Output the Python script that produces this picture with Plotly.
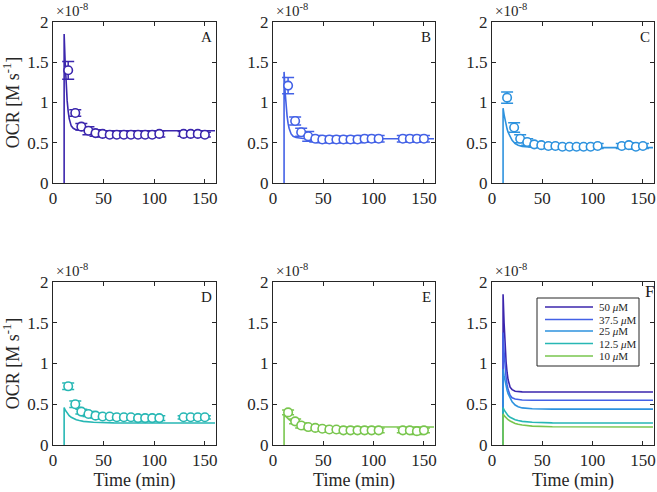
import plotly.graph_objects as go

# ---------------- data (units of 1e-8 M/s) ----------------
panels = ["A", "B", "C", "D", "E"]
conc_labels = ["50 <i>μ</i>M", "37.5 <i>μ</i>M", "25 <i>μ</i>M", "12.5 <i>μ</i>M", "10 <i>μ</i>M"]
colors = ["#3b26ad", "#4361e6", "#2d92de", "#27b7b4", "#79c64e"]

t_data = [15, 22, 28, 35, 42, 49, 56, 63, 70, 77, 84, 91, 98, 105, 129, 136, 143, 150]
y_A = [1.40, 0.87, 0.70, 0.65, 0.62, 0.61, 0.60, 0.60, 0.60, 0.60, 0.60, 0.60, 0.60, 0.61, 0.61, 0.61, 0.61, 0.60]
e_A = [0.11, 0.04, 0.04, 0.05, 0.04, 0.04, 0.03, 0.03, 0.03, 0.03, 0.03, 0.03, 0.03, 0.04, 0.03, 0.03, 0.03, 0.03]
y_B = [1.21, 0.77, 0.63, 0.58, 0.55, 0.54, 0.54, 0.54, 0.54, 0.54, 0.54, 0.55, 0.55, 0.55, 0.55, 0.55, 0.55, 0.55]
e_B = [0.10, 0.05, 0.05, 0.06, 0.04, 0.04, 0.04, 0.04, 0.04, 0.04, 0.04, 0.04, 0.04, 0.04, 0.04, 0.04, 0.04, 0.04]
y_C = [1.06, 0.69, 0.55, 0.51, 0.48, 0.47, 0.46, 0.46, 0.45, 0.45, 0.45, 0.45, 0.45, 0.46, 0.46, 0.47, 0.45, 0.46]
e_C = [0.07, 0.06, 0.05, 0.04, 0.03, 0.03, 0.03, 0.03, 0.03, 0.03, 0.03, 0.03, 0.03, 0.03, 0.03, 0.03, 0.03, 0.03]
y_D = [0.72, 0.50, 0.41, 0.38, 0.36, 0.35, 0.35, 0.34, 0.34, 0.34, 0.33, 0.33, 0.33, 0.33, 0.34, 0.34, 0.34, 0.34]
e_D = [0.04, 0.04, 0.03, 0.03, 0.03, 0.03, 0.03, 0.03, 0.03, 0.03, 0.03, 0.03, 0.03, 0.03, 0.02, 0.02, 0.02, 0.02]
y_E = [0.40, 0.29, 0.24, 0.22, 0.21, 0.20, 0.19, 0.19, 0.18, 0.18, 0.18, 0.18, 0.18, 0.18, 0.18, 0.18, 0.17, 0.18]
e_E = [0.03, 0.03, 0.03, 0.03, 0.03, 0.03, 0.03, 0.03, 0.03, 0.03, 0.03, 0.03, 0.03, 0.03, 0.03, 0.03, 0.04, 0.03]

t_model = [11, 11, 12, 13, 14, 15, 16, 18, 20, 23, 26, 30, 40, 60, 160]
m_A = [0, 1.85, 1.50, 1.22, 1.02, 0.89, 0.80, 0.71, 0.68, 0.66, 0.655, 0.652, 0.65, 0.65, 0.65]
m_B = [0, 1.38, 1.14, 0.96, 0.83, 0.74, 0.68, 0.61, 0.58, 0.565, 0.557, 0.553, 0.55, 0.55, 0.55]
m_C = [0, 0.93, 0.85, 0.78, 0.72, 0.67, 0.63, 0.57, 0.53, 0.49, 0.47, 0.455, 0.445, 0.44, 0.44]
m_D = [0, 0.46, 0.43, 0.41, 0.39, 0.375, 0.36, 0.34, 0.325, 0.31, 0.30, 0.29, 0.28, 0.272, 0.27]
m_E = [0, 0.38, 0.36, 0.345, 0.33, 0.32, 0.31, 0.295, 0.28, 0.265, 0.255, 0.245, 0.232, 0.224, 0.22]

data_y = [y_A, y_B, y_C, y_D, y_E]
data_e = [e_A, e_B, e_C, e_D, e_E]
model_y = [m_A, m_B, m_C, m_D, m_E]

x_ticks = [0, 50, 100, 150]
y_ticks = [0, 0.5, 1, 1.5, 2]
y_tick_text = ["0", "0.5", "1", "1.5", "2"]

# ---------------- layout geometry ----------------
W, H = 657, 492
col_px = [(53, 216), (273, 435), (492, 654)]
row_px = [(22, 183), (282, 445)]
FONT = "Liberation Serif, DejaVu Serif, Times New Roman, serif"
INK = "#262626"

fig = go.Figure()
layout = dict(
    width=W, height=H, margin=dict(l=0, r=0, t=0, b=0, autoexpand=False),
    paper_bgcolor="white", plot_bgcolor="white",
    font=dict(family=FONT, size=17, color=INK),
    showlegend=False,
)
annotations = []
shapes = []

letters = ["A", "B", "C", "D", "E", "F"]
for i in range(6):
    r, c = divmod(i, 3)
    n = i + 1
    xa = "x" if n == 1 else f"x{n}"
    ya = "y" if n == 1 else f"y{n}"
    xkey = "xaxis" if n == 1 else f"xaxis{n}"
    ykey = "yaxis" if n == 1 else f"yaxis{n}"
    x0, x1 = col_px[c]
    y0, y1 = row_px[r]
    layout[xkey] = dict(
        domain=[x0 / W, x1 / W], anchor=ya, range=[0, 161], automargin=False,
        tickvals=x_ticks, ticks="inside", ticklen=4, tickcolor=INK,
        showline=True, linecolor=INK, linewidth=1, mirror="ticks",
        showgrid=False, zeroline=False, tickfont=dict(family=FONT, size=17),
        title=dict(text="Time (min)" if r == 1 else "", font=dict(family=FONT, size=18), standoff=2),
    )
    layout[ykey] = dict(
        domain=[1 - y1 / H, 1 - y0 / H], anchor=xa, range=[0, 2], automargin=False,
        tickvals=y_ticks, ticktext=y_tick_text,
        ticks="inside", ticklen=4, tickcolor=INK,
        showline=True, linecolor=INK, linewidth=1, mirror="ticks",
        showgrid=False, zeroline=False, tickfont=dict(family=FONT, size=17),
        title=dict(text="OCR [M s<sup>-1</sup>]" if c == 0 else "", font=dict(family=FONT, size=18), standoff=4),
    )
    annotations.append(dict(
        text="×10<sup>-8</sup>", xref="paper", yref="paper",
        x=(x0 + 1) / W, y=1 - (y0 - 1) / H, xanchor="left", yanchor="bottom",
        showarrow=False, font=dict(family=FONT, size=15, color=INK),
    ))
    annotations.append(dict(
        text=letters[i], xref=f"{xa} domain", yref=f"{ya} domain",
        x=0.985 if i < 5 else 1.01, y=0.97 if i < 5 else 1.01,
        xanchor="right", yanchor="top", showarrow=False,
        font=dict(family=FONT, size=15 if i < 5 else 17, color="#1a1a1a"),
    ))

    if i < 5:
        col = colors[i]
        fig.add_trace(go.Scatter(
            x=t_model, y=model_y[i], mode="lines", xaxis=xa, yaxis=ya,
            line=dict(color=col, width=1.6), name=conc_labels[i],
        ))
        fig.add_trace(go.Scatter(
            x=t_data, y=data_y[i], mode="markers", xaxis=xa, yaxis=ya,
            error_y=dict(type="data", array=data_e[i], color=col, thickness=1.5, width=6),
            marker=dict(symbol="circle", size=8.5, color="white", line=dict(color=col, width=1.6)),
            name=conc_labels[i],
        ))
    else:
        for k in range(5):
            fig.add_trace(go.Scatter(
                x=t_model, y=model_y[k], mode="lines", xaxis=xa, yaxis=ya,
                line=dict(color=colors[k], width=1.6), name=conc_labels[k],
            ))

# ---- compact legend box for panel F (MATLAB-style) ----
lg_x0, lg_x1, lg_y0, lg_y1 = 537, 639, 298, 366
shapes.append(dict(type="rect", xref="paper", yref="paper",
                   x0=lg_x0 / W, x1=lg_x1 / W, y0=1 - lg_y1 / H, y1=1 - lg_y0 / H,
                   line=dict(color=INK, width=1), fillcolor="white", layer="above"))
row_centers = [307, 319.5, 331, 343.5, 356]
for k in range(5):
    yc = 1 - row_centers[k] / H
    shapes.append(dict(type="line", xref="paper", yref="paper",
                       x0=545 / W, x1=593 / W, y0=yc, y1=yc,
                       line=dict(color=colors[k], width=1.6), layer="above"))
    annotations.append(dict(text=conc_labels[k], xref="paper", yref="paper",
                            x=597 / W, y=yc, xanchor="left", yanchor="middle",
                            showarrow=False, font=dict(family=FONT, size=11, color=INK)))

layout["annotations"] = annotations
layout["shapes"] = shapes
fig.update_layout(**layout)
fig.write_html("out.html", config={"displayModeBar": False},
               post_script="document.body.style.margin='0px';document.body.style.overflow='hidden';")
